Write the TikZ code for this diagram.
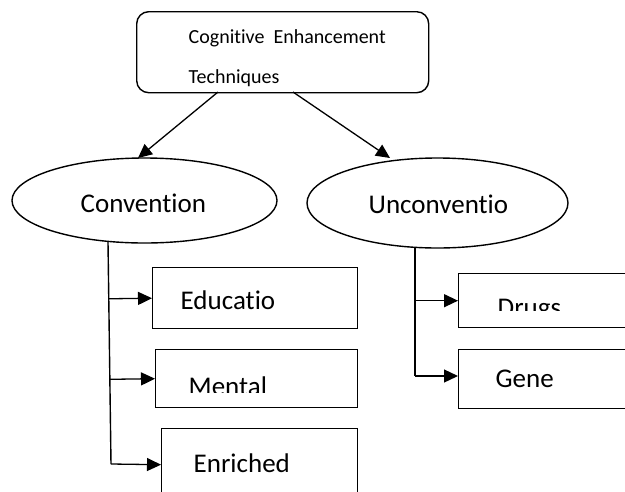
\documentclass[tikz,border=0pt]{standalone}
\usepackage{fontspec}
\setmainfont{Carlito}[Ligatures={NoCommon}]
\usetikzlibrary{shapes.geometric,arrows.meta,calc}
\begin{document}
\begin{tikzpicture}[x=1pt,y=-1pt,line width=1.4pt,
  box/.style={draw,line width=1.4pt,inner sep=0pt,anchor=north west},
  oval/.style={draw,ellipse,line width=1.4pt,inner sep=0pt},
  lbl/.style={inner sep=0pt,anchor=base west,font=\fontsize{27}{30}\selectfont},
  toplbl/.style={inner sep=0pt,anchor=base west,font=\fontsize{20}{24}\selectfont},
  arr/.style={-{Triangle[length=14pt,width=13pt]},line width=1.3pt}]
\useasboundingbox (0,0) rectangle (625,491);
\clip (0,0) rectangle (625,491);
% top box
\node[box,rounded corners=12pt,minimum width=292pt,minimum height=81pt] (top) at (136,11) {};
\begin{scope}
\clip (136,11) rectangle (428,87);
\node[toplbl] (toptxt1) at (188,43) {Cognitive\ \ Enhancement};
\node[toplbl] (toptxt2) at (188,83) {Techniques};
\end{scope}
% ellipses
\node[oval,minimum width=265pt,minimum height=85pt] (conv) at (144.5,200.5) {};
\node[lbl] (convtxt) at (80,212) {Convention};
\node[oval,minimum width=261pt,minimum height=90pt] (unconv) at (437.5,203) {};
\node[lbl] (unconvtxt) at (368,213) {Unconventio};
% arrows from top box
\coordinate (tl) at (218,92);
\coordinate (tr) at (293,92);
\coordinate (cl) at (138,158);
\coordinate (cr) at (390,158);
\draw[arr] (tl) -- (cl);
\draw[arr] (tr) -- (cr);
% left boxes
\node[box,minimum width=205pt,minimum height=61pt] (educ) at (152,267) {};
\node[lbl] (eductxt) at (180,309) {Educatio};
\node[box,minimum width=202pt,minimum height=58pt] (mental) at (155,349) {};
\begin{scope}
\clip (155,349) rectangle (357,392);
\node[lbl] (mentaltxt) at (188,395.5) {Mental};
\end{scope}
\node[box,minimum width=196pt,minimum height=72pt] (enr) at (161,428) {};
\node[lbl] (enrtxt) at (193,472) {Enriched};
% right boxes
\node[box,minimum width=200pt,minimum height=54pt] (drugs) at (458,273) {};
\begin{scope}
\clip (458,273) rectangle (625,310);
\node[lbl] (drugstxt) at (497,316.5) {Drugs};
\end{scope}
\node[box,minimum width=200pt,minimum height=59pt] (gene) at (458,349) {};
\node[lbl] (genetxt) at (495,387) {Gene};
% left tree
\coordinate (cv) at (108,242);
\coordinate (cvb) at (111,464);
\draw (cv) -- (cvb);
\draw[arr] ($(cv)!(educ.west)!(cvb)$) -- (educ.west);
\draw[arr] ($(cv)!(mental.west)!(cvb)$) -- (mental.west);
\draw[arr] (cvb) -- (enr.west);
% right tree
\coordinate (uv) at (415,247);
\coordinate (uvb) at (415,376);
\draw (uv) -- (uvb);
\draw[arr] (uv |- drugs.west) -- (drugs.west);
\draw[arr] (uvb) -- (uvb -| gene.west);
\end{tikzpicture}
\end{document}
